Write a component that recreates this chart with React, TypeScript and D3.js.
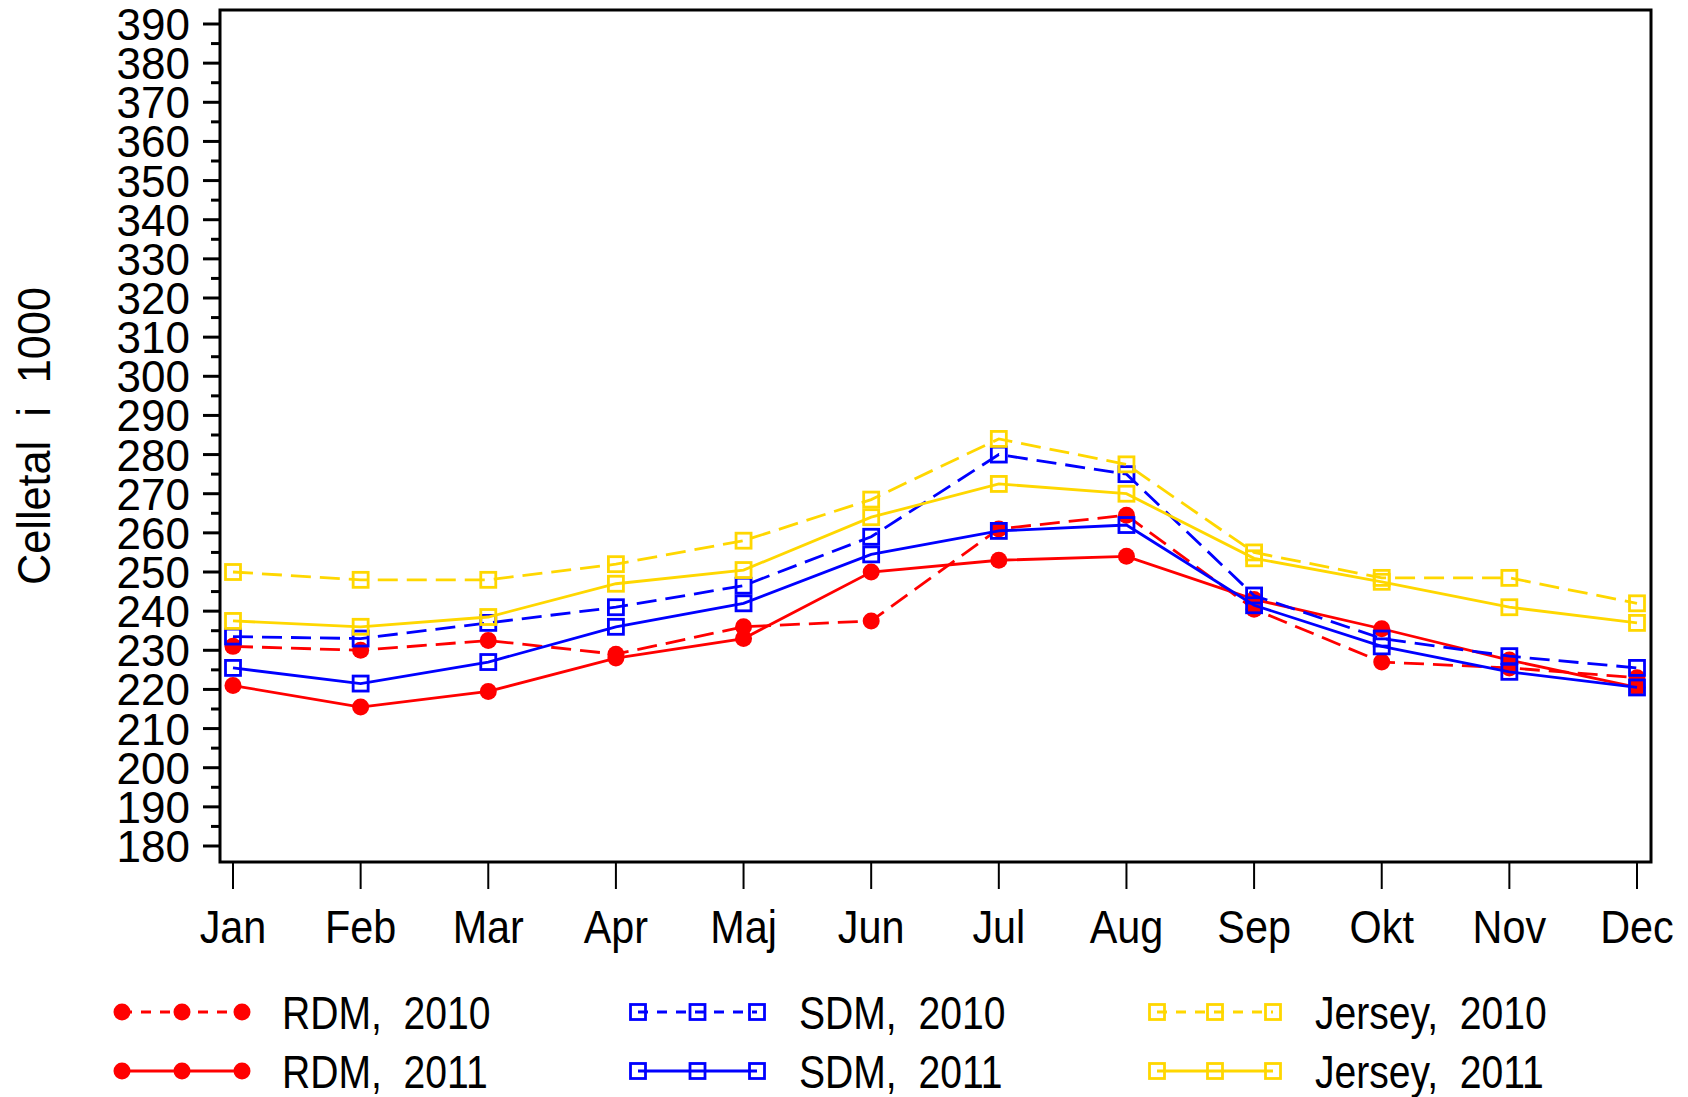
import React from "react";
import * as d3 from "d3";

const months = ["Jan", "Feb", "Mar", "Apr", "Maj", "Jun", "Jul", "Aug", "Sep", "Okt", "Nov", "Dec"];
const yTicks = d3.range(180, 391, 10);
const yMinorTicks = d3.range(185, 390, 10);

const rdm2010 = [231, 230, 232.5, 229, 236, 237.5, 261, 264.5, 240.5, 227, 225.5, 223];
const rdm2011 = [221, 215.5, 219.5, 228, 233, 250, 253, 254, 243, 235.5, 227.5, 220.5];
const sdm2010 = [233.5, 233, 237, 241, 246.5, 259, 280, 275, 244, 233, 228.5, 225.5];
const sdm2011 = [225.5, 221.5, 227, 236, 242, 254.5, 260.5, 262, 241.5, 231, 224.5, 220.5];
const jersey2010 = [250, 248, 248, 252, 258, 268.5, 284, 277.5, 255, 248.5, 248.5, 242];
const jersey2011 = [237.5, 236, 238.5, 247, 250.5, 264, 272.5, 270, 253.5, 247.5, 241, 237];

const seriesLabels = ["RDM,  2010", "RDM,  2011", "SDM,  2010", "SDM,  2011", "Jersey,  2010", "Jersey,  2011"];
const yTitle = "Celletal  i  1000";

const RED = "#FF0000";
const BLUE = "#0000FF";
const YELLOW = "#FFD700";

const series = [
  { label: seriesLabels[0], values: rdm2010, color: RED, dashed: true, marker: "dot" },
  { label: seriesLabels[1], values: rdm2011, color: RED, dashed: false, marker: "dot" },
  { label: seriesLabels[2], values: sdm2010, color: BLUE, dashed: true, marker: "square" },
  { label: seriesLabels[3], values: sdm2011, color: BLUE, dashed: false, marker: "square" },
  { label: seriesLabels[4], values: jersey2010, color: YELLOW, dashed: true, marker: "square" },
  { label: seriesLabels[5], values: jersey2011, color: YELLOW, dashed: false, marker: "square" },
];

const W = 1688;
const H = 1097;
const PL = 220, PR = 1651, PT = 10, PB = 862;
const FONT = "'Liberation Sans', Arial, sans-serif";
const DASH = "20 9";

function Marker({ type, x, y, color }: { type: string; x: number; y: number; color: string }) {
  if (type === "dot") return <circle cx={x} cy={y} r={8.5} fill={color} />;
  return <rect x={x - 7.5} y={y - 7.5} width={15} height={15} fill="none" stroke={color} strokeWidth={2.8} />;
}

export default function App() {
  const x = d3.scalePoint<string>().domain(months).range([233, 1637]);
  const y = d3.scaleLinear().domain([180, 390]).range([846, 24]);
  const line = d3
    .line<number>()
    .x((_, i) => x(months[i]) as number)
    .y((d) => y(d));

  const legendCols = [
    { x0: 122, x1: 242, tx: 282 },
    { x0: 638, x1: 757, tx: 799 },
    { x0: 1157, x1: 1273, tx: 1315 },
  ];
  const legendRows = [1012, 1071];

  return (
    <svg
      width={W}
      height={H}
      style={{ position: "absolute", left: 0, top: 0, background: "#fff" }}
      fontFamily={FONT}
    >
      <rect x={0} y={0} width={W} height={H} fill="#fff" />
      {/* series */}
      {series.map((s, si) => (
        <g key={si}>
          <path
            d={line(s.values) || ""}
            fill="none"
            stroke={s.color}
            strokeWidth={2.8}
            strokeDasharray={s.dashed ? DASH : undefined}
          />
          {s.values.map((v, i) => (
            <Marker key={i} type={s.marker} x={x(months[i]) as number} y={y(v)} color={s.color} />
          ))}
        </g>
      ))}
      {/* frame */}
      <rect x={PL} y={PT} width={PR - PL} height={PB - PT} fill="none" stroke="#000" strokeWidth={3} />
      {/* y ticks */}
      {yTicks.map((t) => (
        <g key={t}>
          <line x1={203} x2={PL} y1={y(t)} y2={y(t)} stroke="#000" strokeWidth={3} />
          <text x={190} y={y(t) + 16} fontSize={44} textAnchor="end" fill="#000">
            {t}
          </text>
        </g>
      ))}
      {yMinorTicks.map((t) => (
        <line key={t} x1={211} x2={PL} y1={y(t)} y2={y(t)} stroke="#000" strokeWidth={3} />
      ))}
      {/* x ticks */}
      {months.map((m) => (
        <g key={m}>
          <line x1={x(m) as number} x2={x(m) as number} y1={PB} y2={889} stroke="#000" strokeWidth={2} />
          <g transform={`translate(${x(m)},943) scale(0.88,1)`}>
            <text x={0} y={0} fontSize={47} textAnchor="middle" fill="#000">
              {m}
            </text>
          </g>
        </g>
      ))}
      {/* y title */}
      <g transform={`translate(50,436) rotate(-90) scale(0.94,1)`}>
        <text x={0} y={0} fontSize={46} textAnchor="middle" fill="#000" style={{ whiteSpace: "pre" }}>
          {yTitle}
        </text>
      </g>
      {/* legend */}
      {series.map((s, si) => {
        const col = legendCols[Math.floor(si / 2)];
        const ry = legendRows[si % 2];
        const xs = [col.x0, (col.x0 + col.x1) / 2, col.x1];
        return (
          <g key={si}>
            <line
              x1={col.x0}
              x2={col.x1}
              y1={ry}
              y2={ry}
              stroke={s.color}
              strokeWidth={2.8}
              strokeDasharray={s.dashed ? "10 9" : undefined}
            />
            {xs.map((mx, k) => (
              <Marker key={k} type={s.marker} x={mx} y={ry} color={s.color} />
            ))}
            <g transform={`translate(${col.tx},${ry + 17}) scale(0.85,1)`}>
              <text x={0} y={0} fontSize={46} fill="#000" style={{ whiteSpace: "pre" }}>
                {s.label}
              </text>
            </g>
          </g>
        );
      })}
    </svg>
  );
}
